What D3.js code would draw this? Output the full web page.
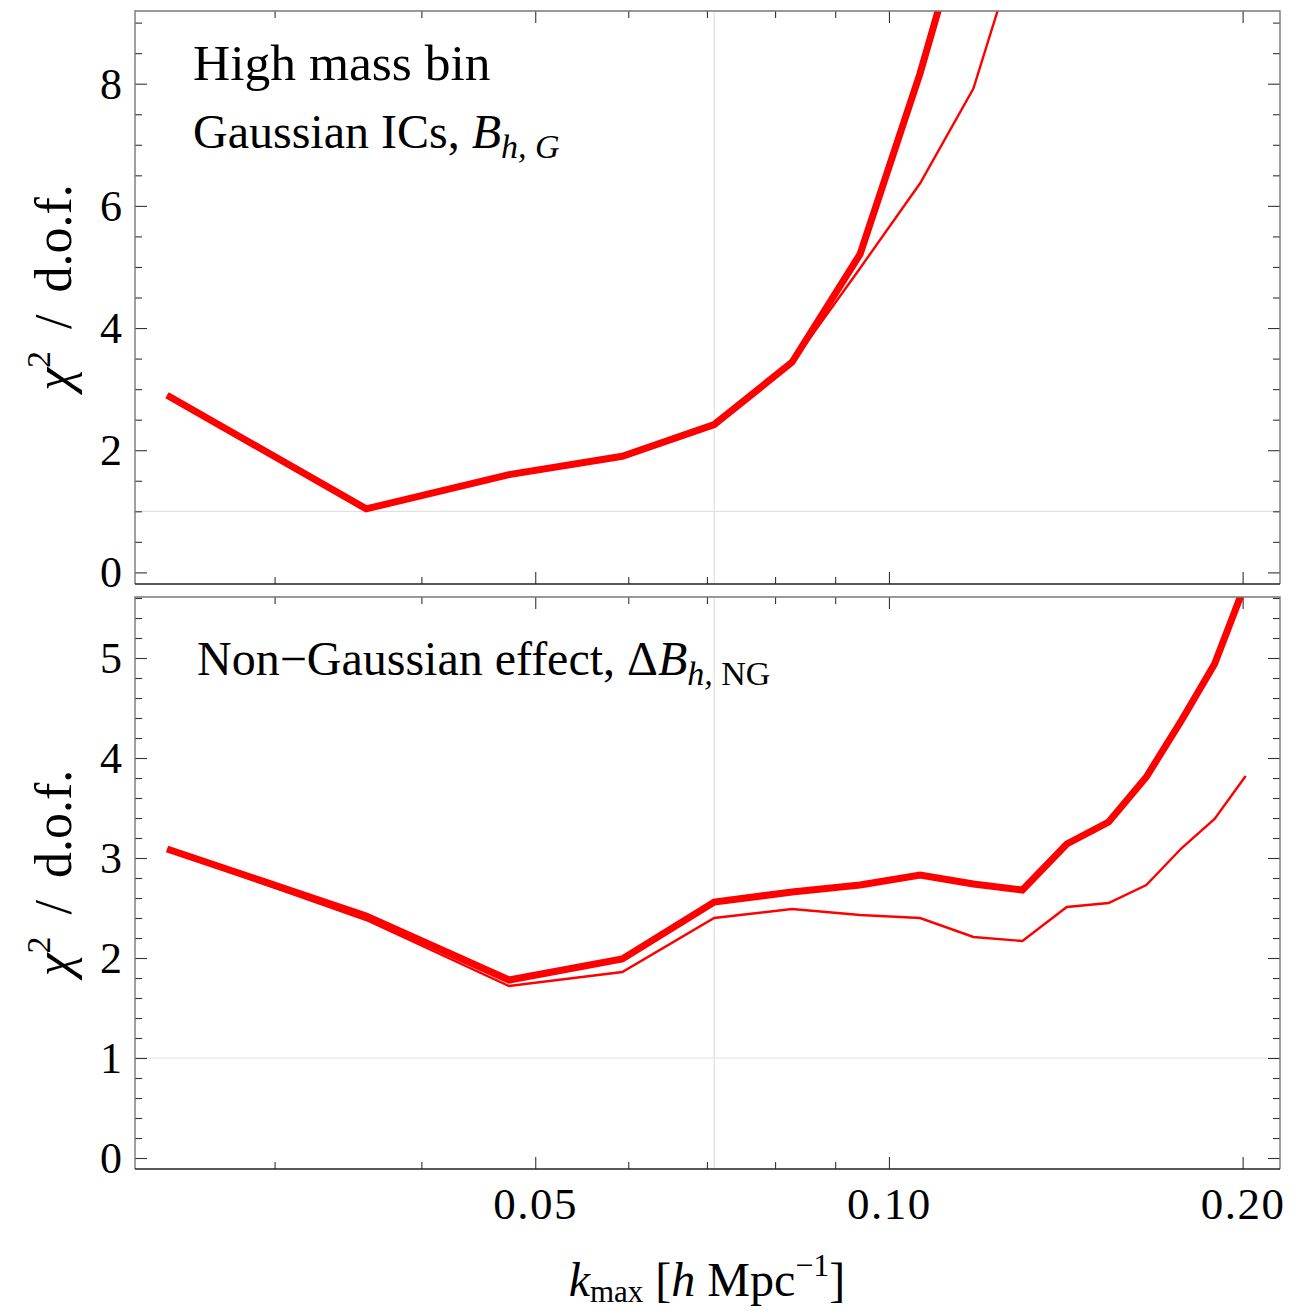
<!DOCTYPE html>
<html>
<head>
<meta charset="utf-8">
<script src="https://cdn.jsdelivr.net/npm/d3@7"></script>
<style>
  body { margin: 0; background: #fff; }
  text { font-family: "Liberation Serif", "Times New Roman", serif; fill: #000; }
</style>
</head>
<body>
<svg id="chart" width="1310" height="1311"></svg>
<script>
// k_max values of the bins [h/Mpc]
const kMax = [0.0243, 0.0359, 0.0475, 0.0593, 0.0710, 0.0827, 0.0945, 0.1063,
              0.1180, 0.1299, 0.1417, 0.1538, 0.1656, 0.1775, 0.1893, 0.2012];

// High mass bin, Gaussian ICs (thick / thin curve); points beyond the frame are clipped
const gaussThick = [2.90, 1.04, 1.60, 1.90, 2.42, 3.44, 5.21, 8.17, 11.2];
const gaussThin  = [2.90, 1.04, 1.60, 1.89, 2.41, 3.43, 4.98, 6.37, 7.92, 10.5];

// Non-Gaussian effect (thick / thin curve)
const ngThick = [3.09, 2.42, 1.78, 1.99, 2.56, 2.66, 2.73, 2.83, 2.74, 2.68, 3.14, 3.36, 3.81, 4.38, 4.94, 5.75];
const ngThin  = [3.08, 2.38, 1.72, 1.86, 2.40, 2.49, 2.43, 2.40, 2.21, 2.17, 2.51, 2.55, 2.73, 3.10, 3.39, 3.82];

// axis ticks
const xMajorTicks = [0.05, 0.10, 0.20];
const xMajorLabels = ["0.05", "0.10", "0.20"];
const xMinorTicks = [0.03, 0.04, 0.06, 0.07, 0.08, 0.09];
const topYMajor = [0, 2, 4, 6, 8];
const topYMinorStep = 0.5;
const botYMajor = [0, 1, 2, 3, 4, 5];
const botYMinorStep = 0.2;
const gridK = 0.071;
const gridY = 1;

const svg = d3.select("#chart");
const left = 135, right = 1280;

const x = d3.scaleLog().domain([0.02282, 0.2152]).range([left, right]);

const panels = [
  { id: "top", y0: 11, y1: 584, domain: [-0.19, 9.19], major: topYMajor, step: topYMinorStep, maxMinor: 9,
    series: [{ v: gaussThick, w: 7 }, { v: gaussThin, w: 2.4 }] },
  { id: "bot", y0: 597, y1: 1169, domain: [-0.11, 5.61], major: botYMajor, step: botYMinorStep, maxMinor: 5.6,
    series: [{ v: ngThick, w: 7 }, { v: ngThin, w: 2.4 }] }
];

const defs = svg.append("defs");

panels.forEach((p, pi) => {
  const y = d3.scaleLinear().domain(p.domain).range([p.y1, p.y0]);
  const g = svg.append("g");

  defs.append("clipPath").attr("id", "clip-" + p.id)
    .append("rect").attr("x", left).attr("y", p.y0).attr("width", right - left).attr("height", p.y1 - p.y0);

  // light grid lines
  g.append("line").attr("x1", x(gridK)).attr("x2", x(gridK)).attr("y1", p.y0).attr("y2", p.y1)
    .attr("stroke", "#e2e2e2").attr("stroke-width", 1.2);
  g.append("line").attr("x1", left).attr("x2", right).attr("y1", y(gridY)).attr("y2", y(gridY))
    .attr("stroke", "#e2e2e2").attr("stroke-width", 1.2);

  const minor = d3.range(0, p.maxMinor + 1e-9, p.step).map(v => +v.toFixed(2))
    .filter(v => !p.major.some(m => Math.abs(m - v) < 1e-6));

  const styleTicks = sel => {
    sel.select(".domain").remove();
    sel.selectAll(".tick line").attr("stroke", "#333").attr("stroke-width", 1.1);
  };

  // inward ticks on all four sides
  const addX = (pos, vals, len) => {
    const ax = (pos === "bottom" ? d3.axisBottom(x) : d3.axisTop(x))
      .tickValues(vals).tickSize(-len).tickSizeOuter(0).tickFormat("");
    g.append("g").attr("transform", `translate(0,${pos === "bottom" ? p.y1 : p.y0})`).call(ax).call(styleTicks);
  };
  addX("bottom", xMajorTicks, 12); addX("bottom", xMinorTicks, 7);
  addX("top", xMajorTicks, 12); addX("top", xMinorTicks, 7);

  const addY = (pos, vals, len) => {
    const ax = (pos === "left" ? d3.axisLeft(y) : d3.axisRight(y))
      .tickValues(vals).tickSize(-len).tickSizeOuter(0).tickFormat("");
    g.append("g").attr("transform", `translate(${pos === "left" ? left : right},0)`).call(ax).call(styleTicks);
  };
  addY("left", p.major, 12); addY("left", minor, 7);
  addY("right", p.major, 12); addY("right", minor, 7);

  // y tick labels
  const yl = g.append("g").attr("transform", `translate(${left},0)`)
    .call(d3.axisLeft(y).tickValues(p.major).tickSize(0).tickPadding(13).tickFormat(d3.format("d")));
  yl.select(".domain").remove();
  yl.selectAll("text").attr("font-size", 44).attr("font-family", "Liberation Serif").attr("fill", "#000").attr("dy", "0.33em");

  // curves
  const line = d3.line().x(d => x(d.k)).y(d => y(d.v));
  const lg = g.append("g").attr("clip-path", `url(#clip-${p.id})`);
  p.series.forEach(s => {
    const pts = s.v.map((v, i) => ({ k: kMax[i], v }));
    lg.append("path").attr("d", line(pts)).attr("fill", "none")
      .attr("stroke", "#ff0000").attr("stroke-width", s.w).attr("stroke-linejoin", "miter");
  });

  // frame
  g.append("path").attr("d", `M${left},${p.y1}V${p.y0}H${right}V${p.y1}`)
    .attr("fill", "none").attr("stroke", "#777").attr("stroke-width", 1.4);
  g.append("line").attr("x1", left).attr("x2", right).attr("y1", p.y1).attr("y2", p.y1)
    .attr("stroke", "#222").attr("stroke-width", 1.4);

  // y axis title
  const yt = svg.append("text")
    .attr("transform", `translate(71,${(p.y0 + p.y1) / 2 - 10}) rotate(-90)`)
    .attr("text-anchor", "middle").attr("font-size", 52);
  yt.append("tspan").attr("font-style", "italic").text("χ");
  yt.append("tspan").attr("font-size", 34).attr("dy", -21).text("2");
  yt.append("tspan").attr("dy", 21).attr("dx", 22).text("/");
  yt.append("tspan").attr("dx", 22).text("d.o.f.");

  // x tick labels on the lower panel
  if (pi === 1) {
    const xl = svg.append("g").attr("transform", `translate(0,${p.y1})`)
      .call(d3.axisBottom(x).tickValues(xMajorTicks).tickSize(0).tickPadding(18)
        .tickFormat((d, i) => xMajorLabels[i]));
    xl.select(".domain").remove();
    xl.selectAll("text").attr("font-size", 45).attr("letter-spacing", 1.5)
      .attr("font-family", "Liberation Serif").attr("fill", "#000");
  }
});

// panel annotations
svg.append("text").attr("x", 193).attr("y", 80).attr("font-size", 51.5).text("High mass bin");

const t2 = svg.append("text").attr("x", 193).attr("y", 148).attr("font-size", 48);
t2.append("tspan").text("Gaussian ICs, ");
t2.append("tspan").attr("font-style", "italic").text("B");
t2.append("tspan").attr("font-size", 34).attr("dy", 10).attr("font-style", "italic").text("h, G");

const t3 = svg.append("text").attr("x", 197).attr("y", 675).attr("font-size", 48);
t3.append("tspan").text("Non\u2212Gaussian effect, \u0394");
t3.append("tspan").attr("font-style", "italic").text("B");
t3.append("tspan").attr("font-size", 34).attr("dy", 10).attr("font-style", "italic").text("h,");
t3.append("tspan").attr("font-size", 34).text(" NG");

// x axis title
const xt = svg.append("text").attr("x", 707).attr("y", 1296).attr("text-anchor", "middle").attr("font-size", 48);
xt.append("tspan").attr("font-style", "italic").text("k");
xt.append("tspan").attr("font-size", 31).attr("dy", 6).text("max");
xt.append("tspan").attr("dy", -6).text(" [");
xt.append("tspan").attr("font-style", "italic").text("h");
xt.append("tspan").text(" Mpc");
xt.append("tspan").attr("font-size", 32).attr("dy", -20).text("\u22121");
xt.append("tspan").attr("dy", 20).text("]");
</script>
</body>
</html>
